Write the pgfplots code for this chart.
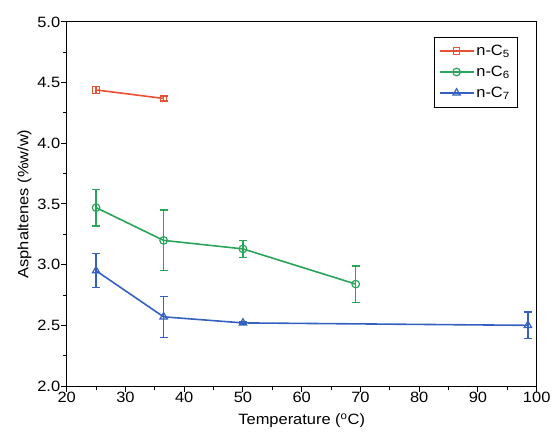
\documentclass[border=0pt]{standalone}
\usepackage{pgfplots}
\pgfplotsset{compat=1.18}
\usepackage{fontspec}
\setmainfont[FakeStretch=1.1]{Liberation Sans}

\definecolor{cfive}{RGB}{232,82,52}
\definecolor{csix}{RGB}{40,165,88}
\definecolor{cseven}{RGB}{52,96,192}

\begin{document}
\begin{tikzpicture}
\begin{axis}[
  scale only axis,
  width=470bp, height=364bp,
  xmin=20, xmax=100, ymin=2.0, ymax=5.0,
  clip=false,
  xtick={20,30,40,50,60,70,80,90,100},
  xticklabels={20,30,40,50,60,70,80,90,100},
  ytick={2.0,2.5,3.0,3.5,4.0,4.5,5.0},
  yticklabels={2.0,2.5,3.0,3.5,4.0,4.5,5.0},
  major tick style={draw=none},
  axis line style={line width=1pt},
  xticklabel style={yshift=-3bp},
  yticklabel style={xshift=-3bp},
  ticklabel style={font=\fontsize{15}{17}\selectfont},
  label style={font=\fontsize{15}{18}\selectfont},
  xlabel={Temperature (\textsuperscript{o}C)},
  ylabel={Asphaltenes (\%w/w)},
  xlabel style={yshift=-4bp},
  ylabel style={yshift=-1bp},
  legend style={at={(0.958,0.959)}, anchor=north east, draw=black,
    font=\fontsize{15}{17}\selectfont, inner xsep=5bp, inner ysep=6bp, row sep=5bp,
    legend cell align=left},
  legend image code/.code={
    \draw[#1, line width=1.6pt, mark repeat=2, mark phase=2] plot coordinates {(0bp,0bp) (17bp,0bp) (34bp,0bp)};
  },
  every axis plot/.append style={line width=1.6pt},
  error bars/error bar style={line width=1.4pt},
  error bars/error mark options={rotate=90, mark size=4bp, line width=1.4pt},
]
\addplot[cfive, mark=square, mark size=3.2bp, mark options={line width=1.2pt, fill=white},
  error bars/.cd, y dir=both, y explicit]
  coordinates {(25,4.44) +- (0,0.03) (36.5,4.37) +- (0,0.02)};
\addlegendentry{n-C\textsubscript{5}}
\addplot[csix, mark=o, mark size=3.8bp, mark options={line width=1.2pt, fill=white},
  error bars/.cd, y dir=both, y explicit]
  coordinates {(25,3.47) +- (0,0.15) (36.5,3.20) +- (0,0.25) (50,3.13) +- (0,0.07) (69.2,2.84) +- (0,0.15)};
\addlegendentry{n-C\textsubscript{6}}
\addplot[cseven, mark=triangle, mark size=4.2bp, mark options={line width=1.2pt, fill=white},
  error bars/.cd, y dir=both, y explicit]
  coordinates {(25,2.95) +- (0,0.14) (36.5,2.57) +- (0,0.17) (50,2.52) +- (0,0.01) (98.5,2.50) +- (0,0.11)};
\addlegendentry{n-C\textsubscript{7}}
\coordinate (o) at (rel axis cs:0,0);
\end{axis}
% outward tick marks: 58.75bp per 10 units in x, 60.667bp per 0.5 in y
\foreach \i in {0,...,8}
  \draw[line width=1pt] (o) ++(\i*58.75bp,0) -- ++(0,-5.5bp);
\foreach \i in {0,...,7}
  \draw[line width=1pt] (o) ++(\i*58.75bp+29.375bp,0) -- ++(0,-3.5bp);
\foreach \i in {0,...,6}
  \draw[line width=1pt] (o) ++(0,\i*60.6667bp) -- ++(-5.5bp,0);
\foreach \i in {0,...,5}
  \draw[line width=1pt] (o) ++(0,\i*60.6667bp+30.3333bp) -- ++(-3.5bp,0);
\pgfresetboundingbox
\path (o) ++(-66.7bp,-55bp) rectangle ++(552bp,441bp);
\end{tikzpicture}
\end{document}
